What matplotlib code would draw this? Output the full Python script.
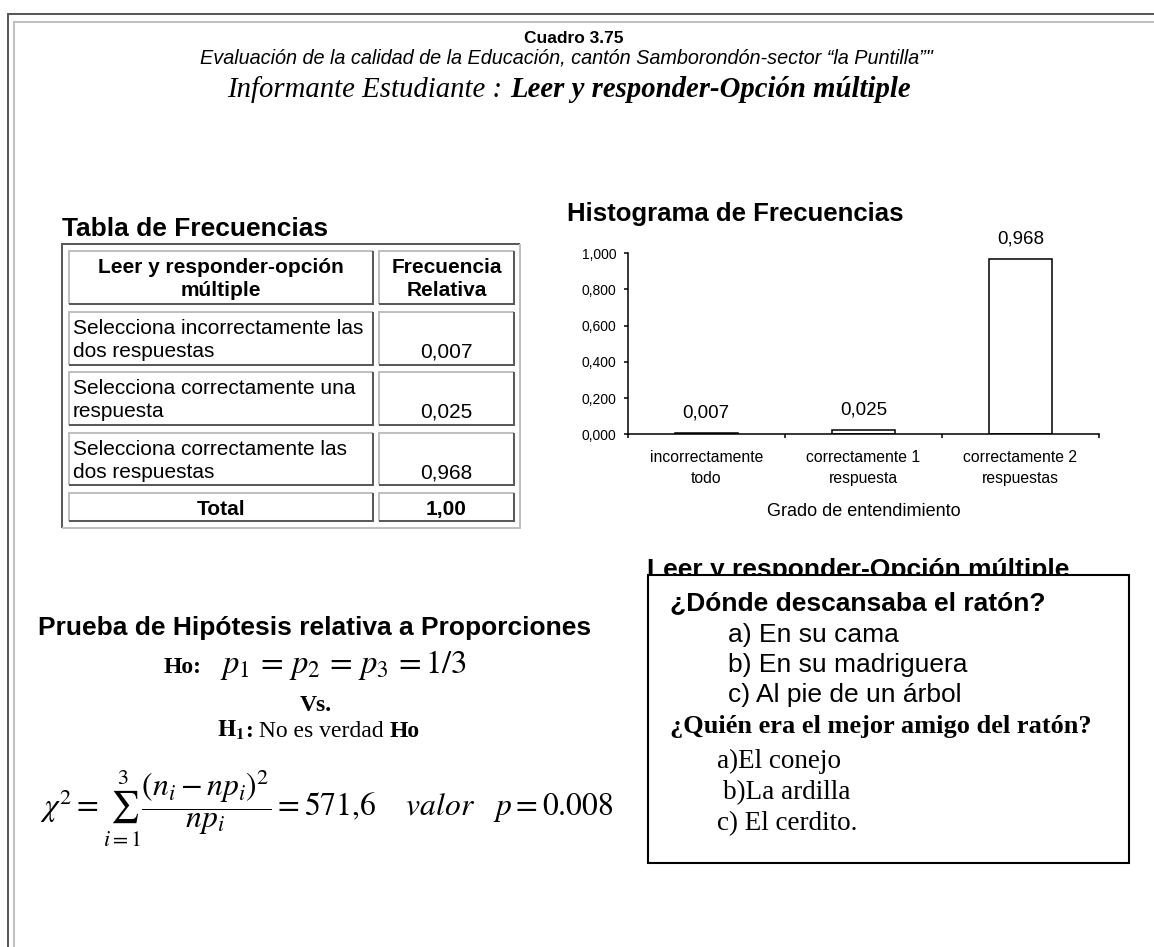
import matplotlib
matplotlib.use("Agg")
import matplotlib.pyplot as plt
from matplotlib import font_manager
from matplotlib.patches import Rectangle
from matplotlib.ticker import FuncFormatter
import numpy as np

W, H = 1154, 947

# datos del cuadro
categorias = ["incorrectamente\ntodo", "correctamente 1\nrespuesta", "correctamente 2\nrespuestas"]
frec_relativa = [0.007, 0.025, 0.968]
etiquetas_barras = ["0,007", "0,025", "0,968"]
yticks = [0.0, 0.2, 0.4, 0.6, 0.8, 1.0]

tabla_encabezado = ["Leer y responder-opción\nmúltiple", "Frecuencia\nRelativa"]
tabla_filas = ["Selecciona incorrectamente las\ndos respuestas",
               "Selecciona correctamente una\nrespuesta",
               "Selecciona correctamente las\ndos respuestas"]
tabla_valores = ["0,007", "0,025", "0,968"]
tabla_total = ["Total", "1,00"]

pregunta1 = "¿Dónde descansaba el ratón?"
opciones1 = ["a) En su cama", "b) En su madriguera", "c) Al pie de un árbol"]
pregunta2 = "¿Quién era el mejor amigo del ratón?"
opciones2 = ["a)El conejo", "b)La ardilla", "c) El cerdito."]

SANS = "Liberation Sans"
SERIF = "Liberation Serif"
nombres = {f.name for f in font_manager.fontManager.ttflist}
NARROW = "Liberation Sans Narrow" if "Liberation Sans Narrow" in nombres else SANS

plt.rcParams["font.family"] = [SANS, "DejaVu Sans"]
plt.rcParams["mathtext.fontset"] = "stix"

DARK = "#5a5a5a"
LIGHT = "#c0c0c0"

fig = plt.figure(figsize=(W / 100, H / 100), dpi=100)
page = fig.add_axes([0, 0, 1, 1])
page.set_xlim(0, W)
page.set_ylim(H, 0)
page.axis("off")


def linea(xs, ys, color, lw=1.45):
    page.plot(xs, ys, color=color, lw=lw, solid_capstyle="butt", solid_joinstyle="miter")


def caja(x0, y0, x1, y1, arriba, abajo):
    linea([x0, x0, x1], [y1, y0, y0], arriba)
    linea([x1, x1, x0], [y0, y1, y1], abajo)


# marco de la pagina
linea([7.5, 7.5, W], [H, 14, 14], DARK)
linea([14, 14, W], [H, 22, 22], LIGHT)

# encabezado
page.text(574, 43, "Cuadro 3.75", family=NARROW, weight="bold", fontsize=12.5,
          ha="center", va="baseline")
page.text(566, 63, "Evaluación de la calidad de la Educación, cantón Samborondón-sector “la Puntilla”\"",
          family=NARROW, style="italic", fontsize=14.3, ha="center", va="baseline")

renderer = fig.canvas.get_renderer()


def linea_mixta(xc, y, partes):
    objs = [page.text(0, y, s, ha="left", va="baseline", **kw) for s, kw in partes]
    anchos = [o.get_window_extent(renderer).width for o in objs]
    x = xc - sum(anchos) / 2
    for o, w in zip(objs, anchos):
        o.set_x(x)
        x += w


linea_mixta(569, 97, [("Informante Estudiante : ", dict(family=SERIF, style="italic", fontsize=20.7)),
                      ("Leer y responder-Opción múltiple",
                       dict(family=SERIF, style="italic", weight="bold", fontsize=20.7))])

# tabla de frecuencias
page.text(62, 236, "Tabla de Frecuencias", weight="bold", fontsize=19, va="baseline")
caja(62, 244, 520, 528, DARK, LIGHT)

col_x = [(69, 373), (379, 514)]
row_y = [(251, 304), (312, 365), (372, 425), (433, 485), (493, 521)]
for (y0, y1) in row_y:
    for (x0, x1) in col_x:
        caja(x0, y0, x1, y1, LIGHT, DARK)

y0 = row_y[0][0]
for j, txt in enumerate(tabla_encabezado):
    xc = sum(col_x[j]) / 2
    for k, parte in enumerate(txt.split("\n")):
        page.text(xc, y0 + 22 + 23 * k, parte, weight="bold", fontsize=15,
                  ha="center", va="baseline")

for i, (fila, valor) in enumerate(zip(tabla_filas, tabla_valores)):
    y0 = row_y[i + 1][0]
    for k, parte in enumerate(fila.split("\n")):
        page.text(col_x[0][0] + 4, y0 + 22 + 23 * k, parte, fontsize=15, va="baseline")
    page.text(sum(col_x[1]) / 2, y0 + 45, valor, fontsize=15, ha="center", va="baseline")

y0 = row_y[4][0]
for j, txt in enumerate(tabla_total):
    page.text(sum(col_x[j]) / 2, y0 + 22, txt, weight="bold", fontsize=15,
              ha="center", va="baseline")

# histograma
page.text(567, 221, "Histograma de Frecuencias", weight="bold", fontsize=18.5,
          ha="left", va="baseline")

ax = fig.add_axes([627.7 / W, 1 - 434.3 / H, (1099 - 627.7) / W, (434.3 - 253.3) / H])
x = np.arange(len(categorias))
bars = ax.bar(x, frec_relativa, width=0.4, color="white", edgecolor="black", linewidth=1.1)
for b, lab in zip(bars, etiquetas_barras):
    ax.annotate(lab, (b.get_x() + b.get_width() / 2, b.get_height()), xytext=(0, 11),
                textcoords="offset points", ha="center", va="baseline", fontsize=13.5,
                annotation_clip=False)
ax.set_xlim(-0.5, 2.5)
ax.set_ylim(0, 1)
ax.set_xticks([-0.5, 0.5, 1.5, 2.5])
ax.set_xticklabels([])
ax.set_xticks(x, minor=True)
ax.set_xticklabels(categorias, minor=True, fontsize=11.3, linespacing=1.55)
ax.tick_params(axis="x", which="minor", length=0, pad=11)
ax.tick_params(axis="x", which="major", length=3, width=1.1, direction="out")
ax.set_yticks(yticks)
ax.yaxis.set_major_formatter(FuncFormatter(lambda v, p: f"{v:.3f}".replace(".", ",")))
ax.tick_params(axis="y", length=3, width=1.1, direction="out", labelsize=10, pad=5)
ax.set_xlabel("Grado de entendimiento", fontsize=13, labelpad=12)
for s in ["top", "right"]:
    ax.spines[s].set_visible(False)
for s in ["left", "bottom"]:
    ax.spines[s].set_linewidth(1.1)
ax.patch.set_alpha(0)

# prueba de hipotesis
page.text(38, 635, "Prueba de Hipótesis relativa a Proporciones", weight="bold", fontsize=19,
          va="baseline")
page.text(164, 673, "Ho:", family=SERIF, weight="bold", fontsize=17, va="baseline")
page.text(220, 673, r"$p_1\, =\, p_2\, =\, p_3\, =1/3$", fontsize=23.5, va="baseline")
page.text(316, 711, "Vs.", family=SERIF, weight="bold", fontsize=17, ha="center", va="baseline")
linea_mixta(318, 737, [(r"$\mathbf{H_1}$", dict(fontsize=17)),
                       (":", dict(family=SERIF, weight="bold", fontsize=17)),
                       (" No es verdad ", dict(family=SERIF, fontsize=17)),
                       ("Ho", dict(family=SERIF, weight="bold", fontsize=17))])
page.text(40, 808, r"$\chi^2 = \sum_{i=1}^{3} \dfrac{(n_i - np_i)^2}{np_i} = 571{,}6 \quad\ valor \quad p = 0.008$",
          fontsize=22.8, va="center")

# cuadro de la pregunta
page.text(647, 577, "Leer y responder-Opción múltiple", weight="bold", fontsize=19, va="baseline")
page.add_patch(Rectangle((648, 575), 1129 - 648, 863 - 575, facecolor="white",
                         edgecolor="black", lw=1.5, zorder=4))
page.text(670, 610, pregunta1, weight="bold", fontsize=19, va="baseline", zorder=5)
for k, op in enumerate(opciones1):
    page.text(728, 642 + 30 * k, op, fontsize=19, va="baseline", zorder=5)
page.text(670, 733, pregunta2, family=SERIF, weight="bold", fontsize=19, va="baseline", zorder=5)
for k, (op, xo) in enumerate(zip(opciones2, [717, 723, 717])):
    page.text(xo, 768 + 31 * k, op, family=SERIF, fontsize=19.5, va="baseline", zorder=5)

fig.savefig("out.png", dpi=100)
